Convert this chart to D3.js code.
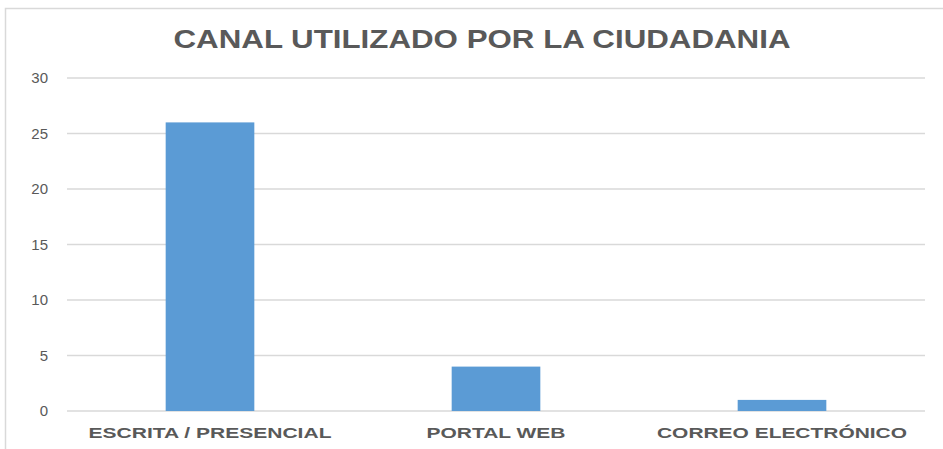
<!DOCTYPE html>
<html>
<head>
<meta charset="utf-8">
<script src="https://cdn.jsdelivr.net/npm/d3@7"></script>
<style>
  body { margin: 0; background: #fff; }
  text { font-family: "Liberation Sans", Arial, sans-serif; fill: #595959; }
</style>
</head>
<body>
<div id="chart"></div>
<script>
const categories = ["ESCRITA / PRESENCIAL", "PORTAL WEB", "CORREO ELECTRÓNICO"];
const values = [26, 4, 1];
const yTicks = [0, 5, 10, 15, 20, 25, 30];
const labelWidths = [243, 139, 250];

const width = 943, height = 449;
const margin = { top: 78, right: 18, bottom: 38, left: 67 };
const innerW = width - margin.left - margin.right;
const innerH = height - margin.top - margin.bottom;

const svg = d3.select("#chart")
    .append("svg")
    .attr("width", width)
    .attr("height", height);

// chart frame (only top/left visible in the crop)
svg.append("path")
    .attr("d", `M5.5,${height} V8.5 H${width}`)
    .attr("fill", "none")
    .attr("stroke", "#d9d9d9")
    .attr("stroke-width", 1.5);

const g = svg.append("g")
    .attr("transform", `translate(${margin.left},${margin.top})`);

const x = d3.scaleBand()
    .domain(categories)
    .range([0, innerW])
    .paddingInner(0.69)
    .paddingOuter(0.345);

const y = d3.scaleLinear()
    .domain([0, 30])
    .range([innerH, 0]);

// gridlines
g.selectAll(".grid")
    .data(yTicks)
    .enter().append("line")
    .attr("x1", 0)
    .attr("x2", innerW)
    .attr("y1", d => y(d))
    .attr("y2", d => y(d))
    .attr("stroke", "#d9d9d9")
    .attr("stroke-width", 1.5);

// y axis labels
const yAxis = g.append("g")
    .call(d3.axisLeft(y).tickValues(yTicks).tickSize(0).tickPadding(19));
yAxis.select(".domain").remove();
yAxis.selectAll("text")
    .style("font-size", "15px")
    .style("font-family", "'Liberation Sans', Arial, sans-serif")
    .attr("fill", "#595959");

// bars
g.selectAll(".bar")
    .data(values)
    .enter().append("rect")
    .attr("x", (d, i) => x(categories[i]))
    .attr("y", d => y(d))
    .attr("width", x.bandwidth())
    .attr("height", d => innerH - y(d))
    .attr("fill", "#5b9bd5");

// category labels
g.selectAll(".cat")
    .data(categories)
    .enter().append("text")
    .attr("x", d => x(d) + x.bandwidth() / 2)
    .attr("y", innerH + 27)
    .attr("text-anchor", "middle")
    .attr("textLength", (d, i) => labelWidths[i])
    .attr("lengthAdjust", "spacingAndGlyphs")
    .style("font-size", "15px")
    .style("font-weight", "bold")
    .text(d => d);

// title
svg.append("text")
    .attr("x", 482)
    .attr("y", 48)
    .attr("text-anchor", "middle")
    .attr("textLength", 617)
    .attr("lengthAdjust", "spacingAndGlyphs")
    .style("font-size", "25px")
    .style("font-weight", "bold")
    .text("CANAL UTILIZADO POR LA CIUDADANIA");
</script>
</body>
</html>
